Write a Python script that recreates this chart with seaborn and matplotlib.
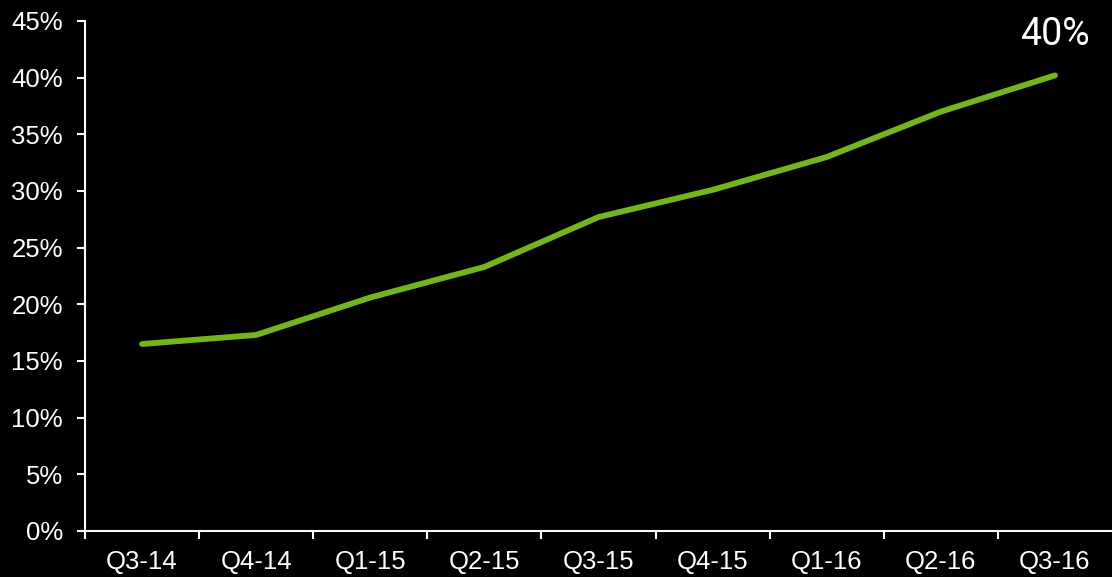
import matplotlib
matplotlib.use("Agg")
import matplotlib.pyplot as plt
import seaborn as sns
import pandas as pd
from matplotlib.ticker import FixedLocator, PercentFormatter

quarters = ["Q3-14", "Q4-14", "Q1-15", "Q2-15", "Q3-15", "Q4-15", "Q1-16", "Q2-16", "Q3-16"]
share = [16.5, 17.3, 20.6, 23.3, 27.7, 30.1, 33.0, 37.0, 40.2]
label_text = "40%"

sns.set_style("dark")
plt.rcParams['font.family'] = ['Liberation Sans', 'DejaVu Sans']

fig = plt.figure(figsize=(11.12, 5.77), dpi=100, facecolor="black")
ax = fig.add_axes([85/1112, 1-531/577, 1-85/1112, (531-21)/577])
ax.set_facecolor("black")

df = pd.DataFrame({"quarter": quarters, "share": share})
sns.lineplot(data=df, x="quarter", y="share", ax=ax, color="#74b51c", linewidth=4.2,
             solid_capstyle="round")

ax.set_xlim(-0.5, len(quarters) - 0.5)
ax.set_ylim(0, 45)
ax.set_yticks(range(0, 46, 5))
ax.yaxis.set_major_formatter(PercentFormatter(decimals=0))
ax.set_xticks(range(len(quarters)))
ax.set_xticklabels(quarters)
ax.xaxis.set_minor_locator(FixedLocator([i - 0.5 for i in range(len(quarters))]))

ax.tick_params(axis="x", which="major", bottom=True, length=0, pad=14, labelsize=18.5, colors="white")
ax.tick_params(axis="x", which="minor", bottom=True, length=6, width=1.5, color="white", direction="out")
ax.tick_params(axis="y", left=True, length=6, width=1.5, color="white", labelsize=18.5, labelcolor="white", pad=10)
ax.grid(False)

for s in ["top", "right"]:
    ax.spines[s].set_visible(False)
for s in ["left", "bottom"]:
    ax.spines[s].set_visible(True)
    ax.spines[s].set_color("white")
    ax.spines[s].set_linewidth(1.5)

ax.set_xlabel("")
ax.set_ylabel("")

ax.annotate(label_text, xy=(len(quarters) - 1, share[-1]), xytext=(0, 16),
            textcoords="offset points", ha="center", va="bottom",
            color="white", fontsize=27, family=["Roboto", "DejaVu Sans"])

fig.savefig("out.png", dpi=100, facecolor="black")
